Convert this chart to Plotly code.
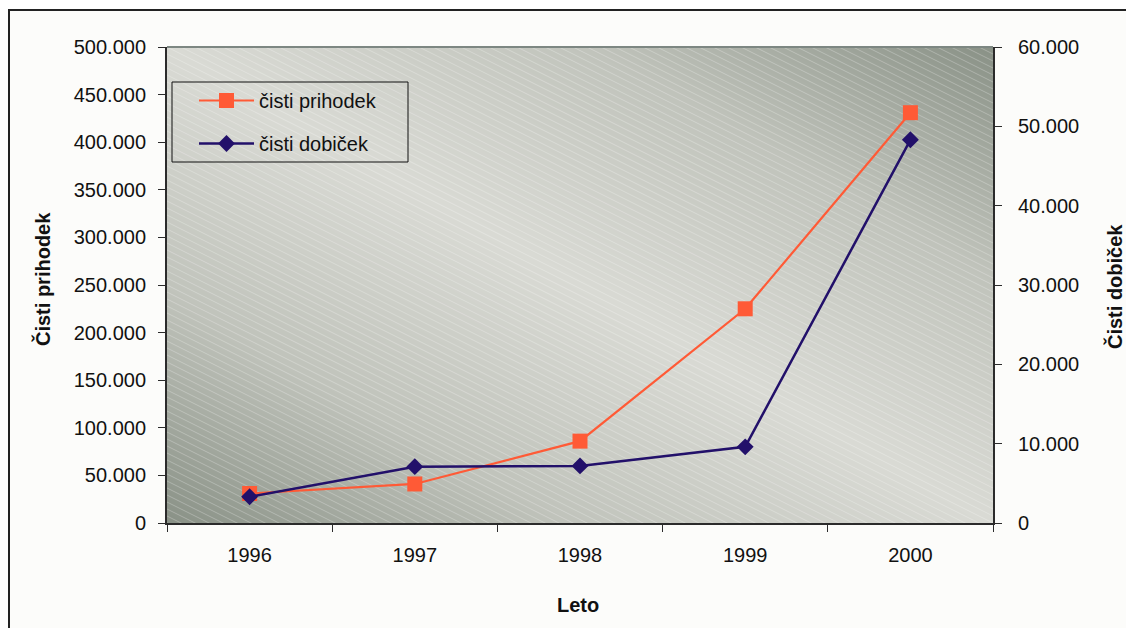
import numpy as np
import plotly.graph_objects as go

# --- data -------------------------------------------------------------
leta = ["1996", "1997", "1998", "1999", "2000"]
cisti_prihodek = [31000, 41000, 86000, 225000, 431000]
cisti_dobicek = [3300, 7100, 7200, 9600, 48300]

# --- geometry of the plotting area (px) -------------------------------
W, H = 1126, 628
ML, MR, MT, MB = 167, 133, 47, 105
PW, PH = W - ML - MR, H - MT - MB

def px_x(p):
    return (p - ML) / PW

def px_y(p):
    return (H - MB - p) / PH

FONT = "Liberation Sans, Arial, sans-serif"
ORANGE = "#ff5a36"
NAVY = "#22106a"

fig = go.Figure()

# background: diagonal two-tone gradient (light band from top-left to bottom-right)
gx = np.linspace(0, 1, 60)
gy = np.linspace(0, 1, 60)
U, V = np.meshgrid(gx, gy)
shade = np.abs(U + V - 1.0) ** 1.05
fig.add_trace(go.Heatmap(
    x=gx, y=gy, z=shade, zmin=0, zmax=1, zsmooth="best",
    colorscale=[[0, "#d9dad4"], [0.5, "#c0c3bb"], [1, "#899186"]],
    showscale=False, hoverinfo="skip", xaxis="x", yaxis="y",
))

# fine white diagonal hatch over the gradient
hx, hy = [], []
step = 7.0
b = 0.0
while b < PH + 0.5 * PW + step:
    hx += [0.0, 1.0, None]
    hy += [b / PH, (b - 0.5 * PW) / PH, None]
    b += step
fig.add_trace(go.Scatter(
    x=hx, y=hy, mode="lines",
    line=dict(color="rgba(255,255,255,0.26)", width=1),
    showlegend=False, hoverinfo="skip", xaxis="x", yaxis="y",
))

# series
fig.add_trace(go.Scatter(
    x=leta, y=cisti_prihodek, name="čisti prihodek",
    mode="lines+markers", legendgroup="a",
    line=dict(color=ORANGE, width=2.2),
    marker=dict(symbol="square", size=15, color=ORANGE),
    xaxis="x2", yaxis="y2",
))
fig.add_trace(go.Scatter(
    x=leta, y=cisti_dobicek, name="čisti dobiček",
    mode="lines+markers", legendgroup="b",
    line=dict(color=NAVY, width=2.5),
    marker=dict(symbol="diamond", size=13, color=NAVY),
    xaxis="x2", yaxis="y3",
))

tickfont = dict(family=FONT, size=20, color="#111111")
AXC = "#2b2b2b"

fig.update_layout(
    width=W, height=H,
    margin=dict(l=ML, r=MR, t=MT, b=MB),
    paper_bgcolor="#ffffff",
    plot_bgcolor="#c8cac3",
    separators=",.",
    font=dict(family=FONT, size=20, color="#111111"),
    xaxis=dict(range=[0, 1], visible=False, fixedrange=True),
    yaxis=dict(range=[0, 1], visible=False, fixedrange=True),
    xaxis2=dict(
        overlaying="x", anchor="y2", type="category",
        range=[-0.5, 4.5], tickson="boundaries",
        ticks="outside", ticklen=7, tickcolor=AXC, tickwidth=1,
        showline=True, linecolor=AXC, linewidth=2,
        showgrid=False, zeroline=False, tickfont=tickfont,
        ticklabelstandoff=13,
    ),
    yaxis2=dict(
        overlaying="y", anchor="x2", side="left",
        range=[0, 500000], dtick=50000, tickformat=",d",
        ticks="outside", ticklen=7, tickcolor=AXC, tickwidth=1,
        showline=True, linecolor=AXC, linewidth=2,
        showgrid=False, zeroline=False, tickfont=tickfont,
        ticklabelstandoff=8,
    ),
    yaxis3=dict(
        overlaying="y", anchor="x2", side="right",
        range=[0, 60000], dtick=10000, tickformat=",d",
        ticks="outside", ticklen=7, tickcolor=AXC, tickwidth=1,
        showline=True, linecolor=AXC, linewidth=2,
        showgrid=False, zeroline=False, tickfont=tickfont,
        ticklabelstandoff=12,
    ),
    legend=dict(
        x=px_x(194), y=px_y(81), xanchor="left", yanchor="top",
        bgcolor="rgba(0,0,0,0)", borderwidth=0,
        font=dict(family=FONT, size=20, color="#111111"),
        itemwidth=55, tracegroupgap=14,
    ),
    shapes=[
        # outer chart frame
        dict(type="rect", xref="paper", yref="paper", layer="below",
             x0=px_x(9), x1=px_x(W + 20), y0=px_y(10), y1=px_y(H + 20),
             line=dict(color="#222222", width=2), fillcolor="#fcfcfa"),
        # top edge of the plot area
        dict(type="line", xref="paper", yref="paper",
             x0=0, x1=1, y0=1, y1=1,
             line=dict(color="#7d8782", width=2)),
        # legend frame
        dict(type="rect", xref="paper", yref="paper",
             x0=px_x(172), x1=px_x(408), y0=px_y(82), y1=px_y(162),
             line=dict(color="#111111", width=1)),
    ],
    annotations=[
        dict(text="<b>Čisti prihodek</b>", xref="paper", yref="paper",
             x=px_x(42), y=px_y(279), textangle=-90, showarrow=False,
             xanchor="center", yanchor="middle",
             font=dict(family=FONT, size=20, color="#111111")),
        dict(text="<b>Čisti dobiček</b>", xref="paper", yref="paper",
             x=px_x(1114), y=px_y(287), textangle=-90, showarrow=False,
             xanchor="center", yanchor="middle",
             font=dict(family=FONT, size=20, color="#111111")),
        dict(text="<b>Leto</b>", xref="paper", yref="paper",
             x=px_x(578), y=px_y(605), showarrow=False,
             xanchor="center", yanchor="middle",
             font=dict(family=FONT, size=20, color="#111111")),
    ],
)

fig.write_html("out.html")
